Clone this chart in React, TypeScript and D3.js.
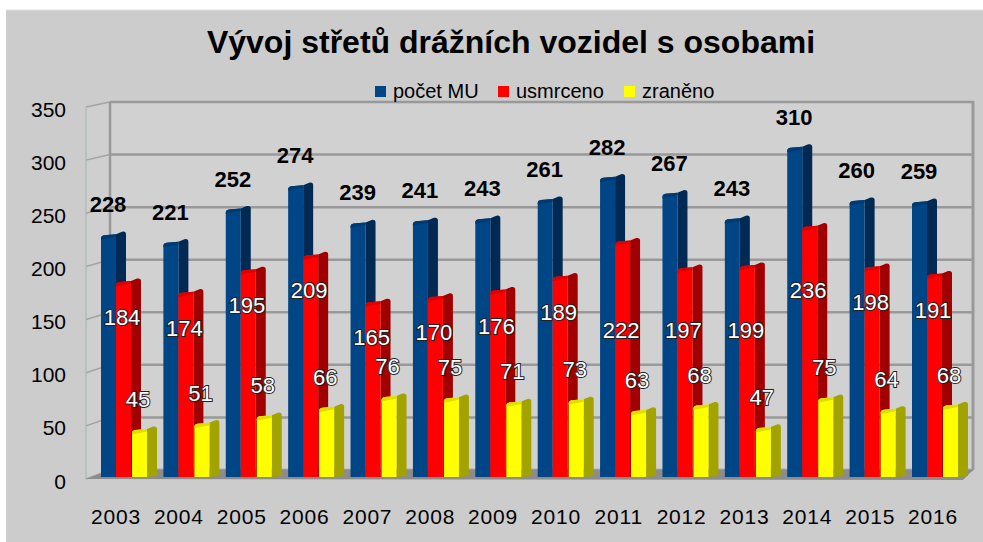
import React from "react";
import * as d3 from "d3";

const width = 983;
const height = 542;

const years = ["2003", "2004", "2005", "2006", "2007", "2008", "2009", "2010", "2011", "2012", "2013", "2014", "2015", "2016"];
const pocetMU = [228, 221, 252, 274, 239, 241, 243, 261, 282, 267, 243, 310, 260, 259];
const usmrceno = [184, 174, 195, 209, 165, 170, 176, 189, 222, 197, 199, 236, 198, 191];
const zraneno = [45, 51, 58, 66, 76, 75, 71, 73, 63, 68, 47, 75, 64, 68];
const seriesNames = ["počet MU", "usmrceno", "zraněno"];
const yTicks = [0, 50, 100, 150, 200, 250, 300, 350];
const title = "Vývoj střetů drážních vozidel s osobami";

const font = "'Liberation Sans', Arial, sans-serif";

// front / side colours per series
const colors = [
  { front: "#004586", side: "#002a54", cap: "#003a72" },
  { front: "#ff0000", side: "#a00000", cap: "#dd0000" },
  { front: "#ffff00", side: "#a3a300", cap: "#dede00" },
];

// 3d box geometry
const backLeft = 110;
const backRight = 973;
const frontLeft = 86;
const frontRight = 963;

const xBar = d3.scalePoint().domain(years).range([116, 927]);
const xLab = d3.scalePoint().domain(years).range([116, 933]);
const yBar = d3.scaleLinear().domain([0, 350]).range([477, 104.25]);
const yBack = d3.scaleLinear().domain([0, 350]).range([470, 102]);
const yFront = d3.scaleLinear().domain([0, 350]).range([479, 107]);

function barPaths(x0: number, yt: number, yb: number) {
  const fw = 15;
  const sw = 10;
  const front = `M${x0},${yb}V${yt + 4}Q${x0},${yt + 1.5} ${x0 + 3},${yt + 1}L${x0 + fw},${yt}V${yb}Z`;
  const side = `M${x0 + fw},${yb}V${yt}L${x0 + fw + sw - 4},${yt - 2.5}Q${x0 + fw + sw},${yt - 3.2} ${x0 + fw + sw},${yt}V${yb - 1}L${x0 + fw},${yb}Z`;
  const cap = `M${x0},${yt + 4}Q${x0},${yt + 1.5} ${x0 + 3},${yt + 1}L${x0 + fw},${yt}L${x0 + fw},${yt + 2.5}L${x0},${yt + 5.5}Z`;
  return { front, side, cap };
}

// red labels that LibreOffice pushed down (anchor in data units)
const redLabelAnchor: Record<string, number> = { "2011": 138, "2012": 138, "2013": 138, "2014": 175.5 };

export default function App() {
  const series = [pocetMU, usmrceno, zraneno];
  const offsets = [-15, 0, 16];

  return (
    <svg width={width} height={height} style={{ position: "absolute", left: 0, top: 0 }}>
      <rect x={0} y={0} width={width} height={height} fill="#ffffff" />
      <rect x={6} y={10} width={width - 6} height={height - 10} fill="#cccccc" />
      <line x1={6} x2={width} y1={10} y2={10} stroke="#e2e2e2" strokeWidth={1} />

      {/* walls */}
      <rect x={backLeft} y={yBack(350)} width={backRight - backLeft} height={yBack(0) - yBack(350)} fill="#d1d1d1" />
      <polygon
        points={`${frontLeft},${yFront(350)} ${backLeft},${yBack(350)} ${backLeft},${yBack(0)} ${frontLeft},${yFront(0)}`}
        fill="#cfcfcf"
      />
      {yTicks.map((t) => (
        <line key={"lw" + t} x1={frontLeft} y1={yFront(t)} x2={backLeft} y2={yBack(t)} stroke="#a3a3a3" strokeWidth={1.5} />
      ))}
      {yTicks.map((t) => (
        <line key={"g" + t} x1={backLeft} x2={backRight} y1={yBack(t)} y2={yBack(t)} stroke="#999999" strokeWidth={2.5} />
      ))}
      <line x1={frontLeft} x2={frontLeft} y1={yFront(350)} y2={yFront(0)} stroke="#a8b4b8" strokeWidth={1} />
      <line x1={backLeft} x2={backLeft} y1={yBack(350)} y2={yBack(0)} stroke="#999999" strokeWidth={2.5} />
      <line x1={backRight} x2={backRight} y1={yBack(350) - 1} y2={yBack(0)} stroke="#999999" strokeWidth={3} />

      {/* floor */}
      <polygon
        points={`${backLeft},${yBack(0)} ${backRight},${yBack(0)} ${frontRight},${yFront(0) + 1} ${frontLeft},${yFront(0)}`}
        fill="#8c8c8c"
      />

      {/* bars */}
      {years.map((yr, i) => (
        <g key={yr}>
          {series.map((s, k) => {
            const x0 = (xBar(yr) as number) + offsets[k];
            const p = barPaths(x0, yBar(s[i]), yBar(0));
            return (
              <g key={k}>
                <path d={p.side} fill={colors[k].side} />
                <path d={p.front} fill={colors[k].front} />
                <path d={p.cap} fill={colors[k].cap} />
              </g>
            );
          })}
        </g>
      ))}

      {/* data labels */}
      {years.map((yr, i) => {
        const c = xBar(yr) as number;
        const redY = redLabelAnchor[yr] !== undefined ? yBar(redLabelAnchor[yr]) : yBar(usmrceno[i]) + 36;
        return (
          <g key={"l" + yr} fontFamily={font} fontSize={22} textAnchor="middle">
            <text x={c - 8} y={yBar(pocetMU[i]) - 22} fontWeight="bold" fill="#000">
              {pocetMU[i]}
            </text>
            <text x={c + 6} y={redY + 8} fill="#fff" stroke="#222" strokeWidth={2} style={{ paintOrder: "stroke" }}>
              {usmrceno[i]}
            </text>
            <text x={c + 22} y={yBar(zraneno[i]) - 22} fill="#fff" stroke="#222" strokeWidth={2} style={{ paintOrder: "stroke" }}>
              {zraneno[i]}
            </text>
          </g>
        );
      })}

      {/* y axis labels */}
      {yTicks.map((t) => (
        <text key={"y" + t} x={66} y={yFront(t) + 9.5} textAnchor="end" fontFamily={font} fontSize={21} fill="#000">
          {t}
        </text>
      ))}

      {/* x axis labels */}
      {years.map((yr) => (
        <text key={"x" + yr} x={xLab(yr)} y={524} textAnchor="middle" fontFamily={font} fontSize={21} letterSpacing={0.8} fill="#000">
          {yr}
        </text>
      ))}

      <text x={511} y={53} textAnchor="middle" fontFamily={font} fontSize={32} fontWeight="bold" fill="#000">
        {title}
      </text>

      {/* legend */}
      {seriesNames.map((n, k) => {
        const lx = [375, 498, 624][k];
        return (
          <g key={n}>
            <rect x={lx} y={86} width={11} height={11} fill={colors[k].front} />
            <text x={lx + 18} y={98} fontFamily={font} fontSize={20} fill="#000">
              {n}
            </text>
          </g>
        );
      })}
    </svg>
  );
}
